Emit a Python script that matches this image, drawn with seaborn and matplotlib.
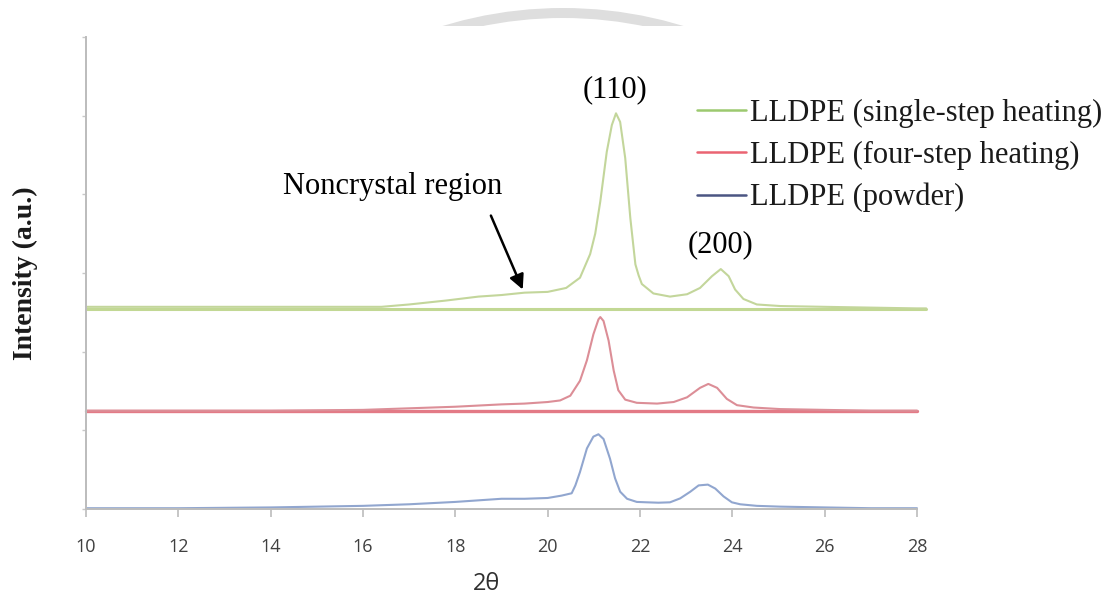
import numpy as np
import pandas as pd
import seaborn as sns
import matplotlib
matplotlib.use("Agg")
import matplotlib.pyplot as plt
from matplotlib.lines import Line2D
from matplotlib.patches import Wedge, Rectangle

# ---------------- data ----------------
series_names = ["LLDPE (single-step heating)", "LLDPE (four-step heating)", "LLDPE (powder)"]

x_single = [10, 12, 14, 16, 16.4, 17, 17.8, 18.5, 19.0, 19.5, 20.0, 20.4, 20.7, 20.92, 21.03, 21.14,
            21.28, 21.39, 21.48, 21.57, 21.68, 21.79, 21.90, 21.97, 22.04, 22.29, 22.65, 23.02, 23.30,
            23.56, 23.75, 23.92, 24.06, 24.24, 24.53, 25.04, 26, 27, 28, 28.2]
y_single = [2.57, 2.57, 2.57, 2.57, 2.57, 2.60, 2.65, 2.70, 2.72, 2.75, 2.76, 2.81, 2.94, 3.24, 3.50, 3.91,
            4.54, 4.88, 5.03, 4.92, 4.46, 3.70, 3.11, 2.97, 2.86, 2.74, 2.70, 2.73, 2.81,
            2.96, 3.05, 2.96, 2.79, 2.67, 2.60, 2.58, 2.57, 2.56, 2.55, 2.55]

x_four = [10, 12, 14, 16, 17, 18, 19, 19.5, 20, 20.27, 20.49, 20.70, 20.85, 20.99, 21.10, 21.14,
          21.21, 21.32, 21.43, 21.53, 21.68, 21.93, 22.37, 22.73, 23.02, 23.30, 23.48, 23.67,
          23.88, 24.10, 24.46, 25.04, 26, 27, 28]
y_four = [1.25, 1.25, 1.25, 1.26, 1.28, 1.30, 1.33, 1.34, 1.36, 1.38, 1.44, 1.63, 1.89, 2.22, 2.41, 2.44,
          2.39, 2.14, 1.76, 1.51, 1.39, 1.35, 1.34, 1.36, 1.42, 1.54, 1.59, 1.54,
          1.40, 1.32, 1.29, 1.27, 1.26, 1.25, 1.25]

x_powder = [10, 12, 14, 16, 17, 18, 19, 19.5, 20, 20.3, 20.52, 20.6, 20.7, 20.85, 20.99, 21.1, 21.21,
            21.35, 21.46, 21.57, 21.72, 21.93, 22.15, 22.4, 22.65, 22.87, 23.09, 23.27, 23.47,
            23.63, 23.81, 23.99, 24.17, 24.53, 25.04, 26, 27, 28]
y_powder = [0.01, 0.01, 0.02, 0.04, 0.06, 0.09, 0.13, 0.13, 0.14, 0.17, 0.20, 0.30, 0.47, 0.77, 0.92, 0.95, 0.89,
            0.64, 0.39, 0.22, 0.13, 0.09, 0.085, 0.08, 0.085, 0.135, 0.22, 0.30, 0.31,
            0.26, 0.16, 0.085, 0.06, 0.04, 0.03, 0.02, 0.01, 0.01]

# offset baselines of the stacked patterns
baseline_x_single = [10, 28.2]
baseline_y_single = [2.54, 2.54]
baseline_x_four = [10, 28]
baseline_y_four = [1.24, 1.24]

x_ticks = [10, 12, 14, 16, 18, 20, 22, 24, 26, 28]
y_ticks = [0, 1, 2, 3, 4, 5, 6]

peak_labels = ["(110)", "(200)"]
peak_label_x = [21.46, 23.75]
peak_label_y = [5.33, 3.36]
note_text = "Noncrystal region"

# ---------------- styling ----------------
sns.set_theme(style="white")
plt.rcParams["font.family"] = ["DejaVu Sans"]

curve_colors = {series_names[0]: "#c3d69b", series_names[1]: "#dc8e97", series_names[2]: "#91a6cf"}
legend_colors = ["#9cc96f", "#ea6472", "#4b5583"]

W, H = 1118, 595
fig = plt.figure(figsize=(W / 100, H / 100), dpi=100)
ax = fig.add_axes([86 / W, 1 - 509 / H, 831 / W, 472 / H])

df = pd.concat([
    pd.DataFrame({"2theta": x_single, "I": y_single, "series": series_names[0]}),
    pd.DataFrame({"2theta": x_four, "I": y_four, "series": series_names[1]}),
    pd.DataFrame({"2theta": x_powder, "I": y_powder, "series": series_names[2]}),
], ignore_index=True)

# baselines
sns.lineplot(x=baseline_x_single, y=baseline_y_single, ax=ax, color="#c2d894", lw=2.2, clip_on=False)
sns.lineplot(x=baseline_x_four, y=baseline_y_four, ax=ax, color="#e37a86", lw=2.4, clip_on=False)

sns.lineplot(data=df, x="2theta", y="I", hue="series", palette=curve_colors, ax=ax,
             sort=False, estimator=None, lw=1.5, legend=False, clip_on=False)

ax.set_xlim(10, 28)
ax.set_ylim(0, 6)
ax.set_xticks(x_ticks)
ax.set_xticklabels([str(t) for t in x_ticks])
ax.set_yticks(y_ticks)
ax.set_yticklabels([])

for s in ["top", "right"]:
    ax.spines[s].set_visible(False)
for s in ["left", "bottom"]:
    ax.spines[s].set_color("#bcbcbc")
    ax.spines[s].set_linewidth(1.4)

ax.tick_params(axis="x", which="major", direction="out", length=6, width=1.2, color="#bcbcbc",
               labelsize=13, labelcolor="#404040", pad=15, bottom=True)
ax.tick_params(axis="y", which="major", direction="out", length=3, width=1.0, color="#c8c8c8", left=True)
for lab in ax.get_xticklabels():
    lab.set_family(["Open Sans", "DejaVu Sans"])

ax.set_xlabel("2θ", fontsize=17, color="#303030", family=["Open Sans", "DejaVu Sans"])
ax.xaxis.set_label_coords((486 - 86) / 831, (509 - 596) / 472)
ax.xaxis.label.set_va("bottom")

ax.set_ylabel("Intensity (a.u.)", fontsize=20, fontweight="bold", color="#1a1a1a",
              family=["Liberation Serif", "DejaVu Serif"])
ax.yaxis.set_label_coords((38 - 86) / 831, 0.5)

serif = ["Liberation Serif", "DejaVu Serif"]
for lab, px, py in zip(peak_labels, peak_label_x, peak_label_y):
    ax.text(px, py, lab, fontsize=22, family=serif, ha="center", va="center", color="black")

ax.text(16.65, 4.10, note_text, fontsize=22, family=serif, ha="center", va="center", color="black")
ax.annotate("", xy=(19.46, 2.79), xytext=(18.77, 3.73),
            arrowprops=dict(arrowstyle="-|>", color="black", lw=1.8, mutation_scale=22,
                            shrinkA=0, shrinkB=0))

handles = [Line2D([0], [0], color=c, lw=1.8) for c in legend_colors]
leg = ax.legend(handles, series_names, loc="upper left", bbox_to_anchor=(697 / W, 1 - 99 / H),
                bbox_transform=fig.transFigure, frameon=False, borderpad=0, borderaxespad=0,
                handlelength=1.6, handletextpad=0.15, labelspacing=0.42,
                prop={"family": "Liberation Serif", "size": 22})
for t in leg.get_texts():
    t.set_color("#1a1a1a")

# faint watermark arc at the top
ov = fig.add_axes([0, 0, 1, 1], zorder=-1)
ov.set_xlim(0, W)
ov.set_ylim(H, 0)
ov.axis("off")
clip = Rectangle((0, 0), W, 26, transform=ov.transData, facecolor="none", edgecolor="none")
ov.add_patch(clip)
arc = Wedge((563, 420), 412, 245, 295, width=10, facecolor="#dedede", edgecolor="none")
ov.add_patch(arc)
arc.set_clip_path(clip)
ax.patch.set_alpha(0)

fig.savefig("out.png", dpi=100)
